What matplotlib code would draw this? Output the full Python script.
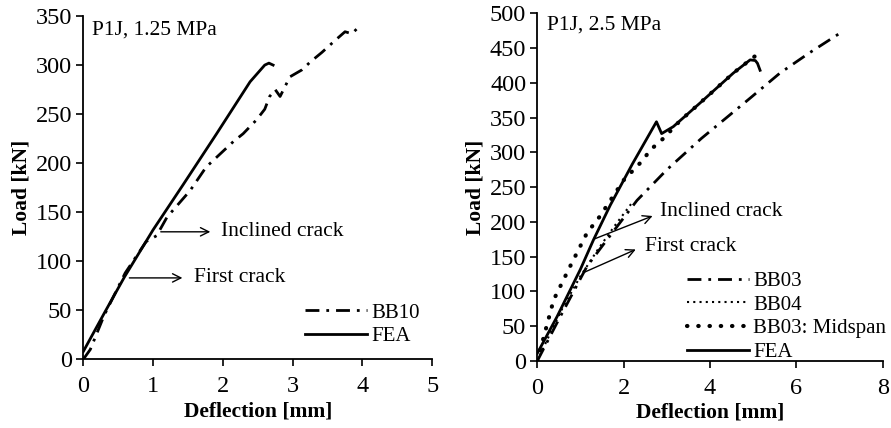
import matplotlib
matplotlib.use("Agg")
import matplotlib.pyplot as plt

plt.rcParams['font.family'] = ['Liberation Serif', 'DejaVu Serif']
plt.rcParams['font.size'] = 15.5

# Left panel: P1J, 1.25 MPa
bb10_x = [0, 0.1, 0.3, 0.6, 0.9, 1.05, 1.2, 1.53, 1.76, 1.91, 2.15, 2.29, 2.48, 2.6,
          2.67, 2.75, 2.82, 2.96, 3.13, 3.25, 3.42, 3.59, 3.75, 3.85, 3.92]
bb10_y = [0, 10, 45, 88, 120, 126, 145, 172, 196, 206, 222, 230, 244, 255,
          268, 275, 268, 288, 295, 303, 313, 324, 334, 332, 337]
fea1_x = [0, 0.3, 0.59, 1.0, 1.43, 1.91, 2.39, 2.60, 2.66, 2.72]
fea1_y = [8, 47, 84, 132, 178, 230, 283, 300, 302, 300]

# Right panel: P1J, 2.5 MPa
bb03_x = [0, 0.5, 1.15, 1.5, 2.31, 3.0, 3.8, 4.93, 5.62, 6.3, 7.05]
bb03_y = [0, 60, 136, 165, 231, 275, 320, 378, 414, 443, 473]
bb04_x = [0, 0.3, 0.6, 1.0, 1.4, 1.8, 2.2]
bb04_y = [0, 40, 78, 122, 160, 195, 228]
mid_x = [0, 0.38, 0.76, 1.15, 1.45, 2.0, 2.45, 2.61, 2.92, 3.3, 3.77, 4.54, 4.93, 5.10]
mid_y = [0, 88, 136, 184, 208, 260, 289, 303, 320, 345, 371, 414, 433, 441]
fea2_x = [0, 0.46, 1.0, 1.3, 1.69, 2.2, 2.76, 2.88, 3.15, 3.77, 4.54, 4.93, 5.05, 5.1, 5.16]
fea2_y = [11, 64, 132, 174, 224, 283, 344, 327, 337, 371, 414, 433, 432, 428, 418]

fig = plt.figure(figsize=(8.91, 4.28), dpi=100)
ax1 = fig.add_axes([0.0935, 0.1605, 0.3916, 0.802])
ax2 = fig.add_axes([0.603, 0.1565, 0.3877, 0.8125])

dashdot = (0, (5, 2.5, 1, 2.5))

ax1.plot(bb10_x, bb10_y, color='black', lw=2, linestyle=dashdot, label='BB10')
ax1.plot(fea1_x, fea1_y, color='black', lw=2, label='FEA')

ax2.plot(bb03_x, bb03_y, color='black', lw=2, linestyle=dashdot, label='BB03')
ax2.plot(bb04_x, bb04_y, color='black', lw=1.5, linestyle=(0, (1, 2)), label='BB04')
ax2.plot(mid_x, mid_y, color='black', lw=3, linestyle=(0, (0.1, 2.6)),
         dash_capstyle='round', label='BB03: Midspan')
ax2.plot(fea2_x, fea2_y, color='black', lw=2, label='FEA')

for ax in (ax1, ax2):
    ax.spines['top'].set_visible(False)
    ax.spines['right'].set_visible(False)
    ax.spines['left'].set_linewidth(1.3)
    ax.spines['bottom'].set_linewidth(1.3)
    ax.tick_params(direction='out', length=5, width=1.2, labelsize=17.5, pad=3)
    ax.tick_params(axis='x', pad=7)
    ax.set_xlabel('Deflection [mm]', fontweight='bold', fontsize=15.5, labelpad=3)
    ax.set_ylabel('Load [kN]', fontweight='bold', fontsize=15.5, labelpad=3)

ax1.set_xlim(0, 5)
ax1.set_ylim(0, 350)
ax1.set_xticks(range(0, 6))
ax1.set_yticks(range(0, 351, 50))
ax2.set_xlim(0, 8)
ax2.set_ylim(0, 500)
ax2.set_xticks(range(0, 9, 2))
ax2.set_yticks(range(0, 501, 50))

ax1.text(0.13, 336, 'P1J, 1.25 MPa', va='center', ha='left')
ax2.text(0.22, 483, 'P1J, 2.5 MPa', va='center', ha='left')

arrow = dict(arrowstyle='->', lw=1, color='black', mutation_scale=15)
ax1.annotate('', xy=(1.86, 130), xytext=(1.07, 130), arrowprops=arrow)
ax1.text(1.97, 130, 'Inclined crack', va='center', ha='left')
ax1.annotate('', xy=(1.46, 83), xytext=(0.62, 83), arrowprops=arrow)
ax1.text(1.59, 83, 'First crack', va='center', ha='left')

ax2.annotate('', xy=(2.73, 210), xytext=(1.26, 174), arrowprops=arrow)
ax2.text(2.84, 215, 'Inclined crack', va='center', ha='left')
ax2.annotate('', xy=(2.34, 162), xytext=(1.03, 126), arrowprops=arrow)
ax2.text(2.49, 164, 'First crack', va='center', ha='left')

leg_kw = dict(frameon=False, loc='upper left', borderpad=0, borderaxespad=0,
              handlelength=3.0, handletextpad=0.2, labelspacing=0.2, fontsize=15)
ax1.legend(bbox_to_anchor=(0.3423, 0.292), bbox_transform=fig.transFigure, **leg_kw)
ax2.legend(bbox_to_anchor=(0.7707, 0.366), bbox_transform=fig.transFigure, **leg_kw)

fig.savefig('out.png', dpi=100)
